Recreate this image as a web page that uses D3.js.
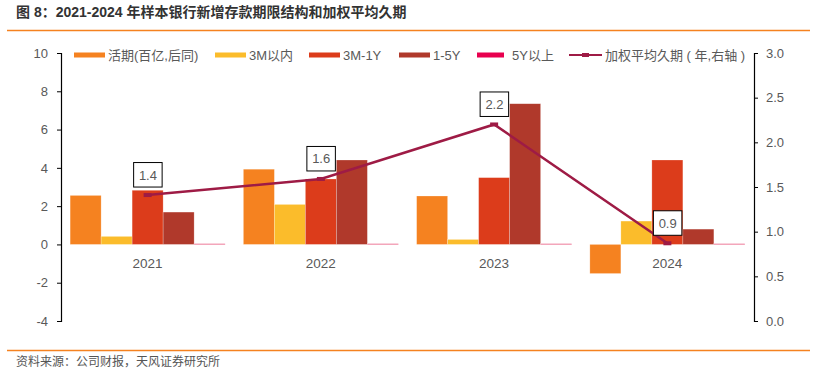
<!DOCTYPE html>
<html><head><meta charset="utf-8">
<script src="https://cdn.jsdelivr.net/npm/d3@7"></script>
<style>body{margin:0;background:#fff;}svg{display:block;font-family:"Liberation Sans","Noto Sans CJK SC",sans-serif;}</style>
</head><body><svg id="c" width="816" height="369"></svg>
<script>
const categories = ["2021","2022","2023","2024"];
const seriesNames = ["活期(百亿,后同)","3M以内","3M-1Y","1-5Y","5Y以上"];
const demand = [2.56, 3.93, 2.53, -1.52];
const within3M = [0.42, 2.09, 0.26, 1.22];
const m3to1Y = [2.83, 3.42, 3.49, 4.41];
const y1to5 = [1.69, 4.41, 7.35, 0.80];
const over5Y = [0.04, 0.04, 0.04, 0.04];
const avgDuration = [1.41, 1.59, 2.20, 0.87];
const durationLabels = ["1.4","1.6","2.2","0.9"];
const lineName = "加权平均久期 ( 年,右轴 )";
const leftTicks = [-4,-2,0,2,4,6,8,10];
const rightTicks = [0,0.5,1,1.5,2,2.5,3];

const series = [demand, within3M, m3to1Y, y1to5, over5Y];
const colors = ["#F58220","#FBBC2B","#DC3C1B","#B0392B","#E8507A"];
const legendColors = ["#F58220","#FBBC2B","#DC3C1B","#B0392B","#E8004F"];
const lineColor = "#9E1B45";

const svg = d3.select("#c");
const L = 61, R = 754, T = 53, B = 321;

// title
svg.append("text").attr("x",16).attr("y",17).attr("font-size",14).attr("font-weight","bold")
  .attr("fill","#333").text("图 8：2021-2024 年样本银行新增存款期限结构和加权平均久期");
svg.append("line").attr("x1",7).attr("x2",810).attr("y1",30.5).attr("y2",30.5).attr("stroke","#F58220").attr("stroke-width",1.5);
svg.append("line").attr("x1",7).attr("x2",810).attr("y1",350.5).attr("y2",350.5).attr("stroke","#F58220").attr("stroke-width",1.5);
svg.append("text").attr("x",16).attr("y",366).attr("font-size",12).attr("fill","#555").text("资料来源：公司财报，天风证券研究所");

const x = d3.scaleBand().domain(categories).range([L,R]).paddingInner(0).paddingOuter(0);
const yL = d3.scaleLinear().domain([-4,10]).range([B,T]);
const yR = d3.scaleLinear().domain([0,3]).range([B,T]);
const groupW = 155;
const xs = d3.scaleBand().domain(d3.range(5)).range([0,groupW]);

// bars
series.forEach((vals,si)=>{
  svg.append("g").selectAll("rect").data(vals).join("rect")
    .attr("x",(d,i)=>x(categories[i]) + (x.bandwidth()-groupW)/2 + xs(si))
    .attr("width",xs.bandwidth())
    .attr("y",d=>Math.min(yL(d),yL(0)))
    .attr("height",d=>Math.max(1,Math.abs(yL(d)-yL(0))))
    .attr("fill",colors[si])
    .attr("stroke","#fff").attr("stroke-opacity",0.4).attr("stroke-width",0.6);
});

// axes
const axL = d3.axisLeft(yL).tickValues(leftTicks).tickSize(4).tickSizeOuter(4).tickFormat(d=>String(d));
const gL = svg.append("g").attr("transform",`translate(${L},0)`).call(axL);
const axR = d3.axisRight(yR).tickValues(rightTicks).tickSize(4).tickSizeOuter(4).tickFormat(d=>d.toFixed(1));
const gR = svg.append("g").attr("transform",`translate(${R},0)`).call(axR);
[gL,gR].forEach(g=>{
  g.selectAll(".domain").attr("stroke","#000").attr("stroke-width",1.2);
  g.selectAll(".tick line").attr("stroke","#000");
  g.selectAll("text").attr("font-size",13).attr("fill","#595959").attr("font-family","Liberation Sans, sans-serif");
});
gL.selectAll("text").attr("x",-13);
gR.selectAll("text").attr("x",12);

// category labels
svg.append("g").selectAll("text").data(categories).join("text")
  .attr("x",d=>x(d)+x.bandwidth()/2).attr("y",268).attr("text-anchor","middle")
  .attr("font-size",13.5).attr("fill","#595959").text(d=>d);

// line
const cx = i => x(categories[i]) + x.bandwidth()/2;
const line = d3.line().x((d,i)=>cx(i)).y(d=>yR(d));
svg.append("path").datum(avgDuration).attr("d",line).attr("fill","none")
  .attr("stroke",lineColor).attr("stroke-width",2.5);
svg.append("g").selectAll("rect").data(avgDuration).join("rect")
  .attr("x",(d,i)=>cx(i)-4).attr("y",d=>yR(d)-2).attr("width",8).attr("height",4)
  .attr("fill",lineColor);

// labels
const lab = svg.append("g").selectAll("g").data(avgDuration).join("g");
lab.append("rect").attr("x",(d,i)=>cx(i)-14).attr("y",d=>yR(d)-32.5).attr("width",28.5).attr("height",24.5)
  .attr("fill","#fff").attr("stroke","#000").attr("stroke-width",1);
lab.append("text").attr("x",(d,i)=>cx(i)+0.3).attr("y",d=>yR(d)-15.5).attr("text-anchor","middle")
  .attr("font-size",13).attr("fill","#595959").text((d,i)=>durationLabels[i]);

// legend
const legX = [74,215,309,399,477];
const legG = svg.append("g");
seriesNames.forEach((n,i)=>{
  legG.append("rect").attr("x",legX[i]).attr("y",52.5).attr("width",i===4?27:31).attr("height",5).attr("fill",legendColors[i]);
  legG.append("text").attr("x",legX[i]+(i===4?35:34)).attr("y",60).attr("font-size",13).attr("fill","#595959").text(n);
});
legG.append("line").attr("x1",569).attr("x2",602).attr("y1",55).attr("y2",55).attr("stroke",lineColor).attr("stroke-width",2);
legG.append("rect").attr("x",582).attr("y",53).attr("width",7).attr("height",4).attr("fill",lineColor);
legG.append("text").attr("x",605).attr("y",60).attr("font-size",13).attr("fill","#595959").text(lineName);
</script></body></html>
